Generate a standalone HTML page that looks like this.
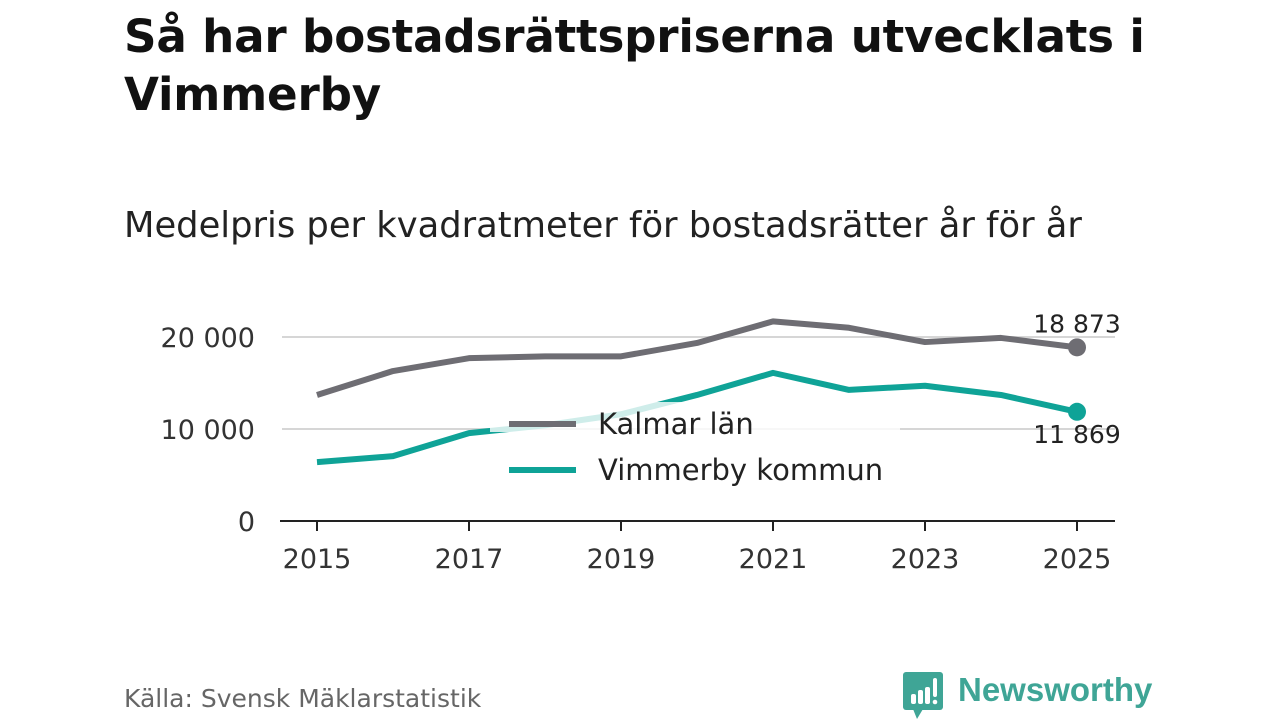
<!DOCTYPE html>
<html><head><meta charset="utf-8"><style>
body{margin:0;width:1280px;height:720px;background:#fff;font-family:"DejaVu Sans","Liberation Sans",sans-serif;overflow:hidden;position:relative}
.t{position:absolute;left:124px;top:8px;font-size:45.2px;font-weight:bold;color:#111;line-height:58px;letter-spacing:-0.2px}
.s{position:absolute;left:124px;top:205px;font-size:35.3px;color:#222}
.src{position:absolute;left:124px;top:684px;font-size:25px;color:#666}
.logo{position:absolute;left:903px;top:672px}
.lt{position:absolute;left:958px;top:671px;font-size:33px;font-weight:bold;color:#3fa596;font-family:"Liberation Sans",sans-serif}
</style></head><body>
<div class="t">Så har bostadsrättspriserna utvecklats i<br>Vimmerby</div>
<div class="s">Medelpris per kvadratmeter för bostadsrätter år för år</div>
<svg width="1280" height="720" style="position:absolute;left:0;top:0" id="c"></svg>
<div class="src">Källa: Svensk Mäklarstatistik</div>
<svg class="logo" width="40" height="48"><rect x="0" y="0" width="40" height="38" rx="3" fill="#3fa596"/><polygon points="10,37 20,37 14,47" fill="#3fa596"/><rect x="8" y="22" width="5" height="10" rx="2" fill="#fff"/><rect x="15" y="18" width="5" height="14" rx="2" fill="#fff"/><rect x="22" y="15" width="5" height="17" rx="2" fill="#fff"/><rect x="30" y="6" width="4" height="19" rx="2" fill="#fff"/><circle cx="32" cy="30" r="2.3" fill="#fff"/></svg>
<div class="lt">Newsworthy</div>
<script>
const years=[2015,2016,2017,2018,2019,2020,2021,2022,2023,2024,2025];
const kalmar=[13700,16300,17700,17900,17900,19350,21700,21000,19450,19900,18873];
const vimmerby=[6400,7050,9550,10400,11600,13700,16100,14250,14700,13700,11869];
const yTicks=[0,10000,20000];
const yTickLabels=["0","10 000","20 000"];
const xTicks=[2015,2017,2019,2021,2023,2025];
const NS="http://www.w3.org/2000/svg";
const svg=document.getElementById('c');
const x=v=>317+(v-2015)*76;
const y=v=>521-v*0.0092;
function mk(t,a,p){const e=document.createElementNS(NS,t);for(const k in a)e.setAttribute(k,a[k]);(p||svg).appendChild(e);return e;}
yTicks.forEach((v,i)=>{
 if(v>0){const g=mk('line',{x1:282,x2:1115,y1:y(v),y2:y(v),stroke:'#d6d6d6','stroke-width':2});
 
 }
 const t=mk('text',{x:255,y:y(v)+10,'text-anchor':'end','font-size':27,fill:'#333'});t.textContent=yTickLabels[i];
 
 
});
const ax=mk('line',{x1:280,x2:1115,y1:521,y2:521,stroke:'#222','stroke-width':2});


xTicks.forEach(v=>{
 mk('line',{x1:x(v),x2:x(v),y1:521,y2:531,stroke:'#222','stroke-width':2});
 const t=mk('text',{x:x(v),y:568,'text-anchor':'middle','font-size':27,fill:'#333'});t.textContent=v;
 
 
});
function series(d,col,name){
 const p=mk('polyline',{points:d.map((v,i)=>x(years[i])+','+y(v)).join(' '),fill:'none',stroke:col,'stroke-width':6,'stroke-linejoin':'round'});
 
 
 const c=mk('circle',{cx:x(years[d.length-1]),cy:y(d[d.length-1]),r:9,fill:col});
 
 
}
series(kalmar,'#6e6d73','kalmar');
series(vimmerby,'#0fa397','vimmerby');
const fmt=v=>String(v).replace(/\B(?=(\d{3})+(?!\d))/g,' ');
let l1=mk('text',{x:1077,y:y(kalmar[10])-15,'text-anchor':'middle','font-size':25,fill:'#222'});l1.textContent=fmt(kalmar[10]);


let l2=mk('text',{x:1077,y:y(vimmerby[10])+31,'text-anchor':'middle','font-size':25,fill:'#222'});l2.textContent=fmt(vimmerby[10]);


const bg=mk('rect',{x:490,y:402,width:410,height:30,fill:'#fff',opacity:0.8});


[['Kalmar län','#6e6d73',424],['Vimmerby kommun','#0fa397',470]].forEach(([n,c,yy])=>{
 const g=mk('g',{});
 
 
 mk('line',{x1:509,x2:576,y1:yy,y2:yy,stroke:c,'stroke-width':6},g);
 const t=mk('text',{x:598,y:yy+10,'font-size':29,fill:'#222'},g);t.textContent=n;
});
</script>
</body></html>
